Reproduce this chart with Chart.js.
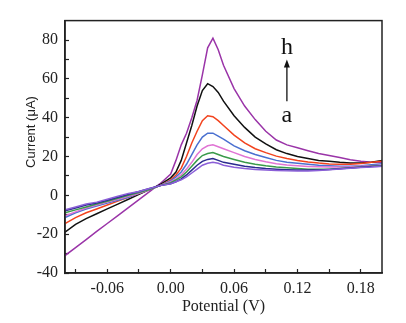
<!DOCTYPE html>
<html>
<head>
<meta charset="utf-8">
<script src="https://cdn.jsdelivr.net/npm/chart.js@4/dist/chart.umd.min.js"></script>
<style>
    html, body { margin: 0; padding: 0; background: #fff; }
    #wrap { width: 406px; height: 323px; }
</style>
</head>
<body>
<div id="wrap"><canvas id="cv" width="406" height="323"></canvas></div>
<script>
// 電位 (V)
var potential = [-0.10, -0.09, -0.08, -0.07, -0.06, -0.05, -0.04, -0.03, -0.02, -0.01,
    0.00, 0.005, 0.01, 0.015, 0.02, 0.025, 0.03, 0.035, 0.04, 0.045, 0.05,
    0.06, 0.07, 0.08, 0.09, 0.10, 0.11, 0.12, 0.13, 0.14, 0.15, 0.16, 0.17, 0.18, 0.19, 0.20];

// 電流 (μA), a -> h
var curveA = [-7.5, -6, -4.5, -3.5, -2, -0.5, 1, 2, 3.5, 5,
    6, 7, 8, 9.5, 11.5, 13.5, 15.5, 16.5, 17, 16.5, 15.5,
    14.5, 13.8, 13.3, 13, 12.8, 12.6, 12.5, 12.5, 12.8, 13.2, 13.6, 14, 14.4, 14.6, 15];
var curveB = [-8, -6.5, -5, -4, -2.5, -1, 0.5, 2, 3.5, 5,
    6, 7, 8.5, 10.5, 13, 15.5, 17.5, 18.5, 19, 18, 17,
    16, 15, 14.3, 13.8, 13.5, 13.2, 13, 13, 13, 13.3, 13.7, 14.1, 14.5, 14.8, 15];
var curveC = [-9, -7.5, -6, -4.5, -3, -1.5, 0, 1.5, 3, 5,
    6.5, 8, 9.5, 12, 15, 18, 20.5, 21.5, 22, 21, 20,
    18.5, 17, 16, 15.2, 14.6, 14.2, 13.8, 13.5, 13.4, 13.5, 13.8, 14.2, 14.6, 15, 15.2];
var curveD = [-10.5, -8.5, -6.5, -5, -3.5, -2, -0.5, 1, 3, 5,
    7, 8.5, 10.5, 13.5, 17, 21, 24, 25.5, 26, 25, 24,
    22, 20, 18.5, 17.3, 16.3, 15.6, 15.2, 14.9, 14.7, 14.6, 14.6, 14.7, 15, 15.2, 15.5];
var curveE = [-11.5, -9, -7, -5.5, -4, -2.5, -1, 1, 3, 5,
    7.5, 9.5, 12, 16, 21, 26, 30, 32, 32, 30.5, 29,
    25.5, 23, 21, 19.5, 18, 17, 16.5, 16, 15.5, 15.2, 15, 15, 15.3, 15.8, 16.3];
var curveF = [-14.5, -11.5, -9, -7, -5, -3, -1, 1, 3, 5,
    8, 10.5, 14, 20, 27, 33, 38.5, 41, 40.5, 38.5, 36,
    31, 27, 24, 22, 20.2, 19, 18, 17.2, 16.6, 16.2, 16, 16, 16.4, 17, 17.5];
var curveG = [-19, -15, -12, -9.5, -7, -4.5, -2, 0.5, 3, 5.5,
    9, 12, 18, 27, 36, 46, 54, 57.5, 56, 53, 48.5,
    41, 35, 30, 26.5, 23.5, 21.5, 20, 19, 18, 17.5, 17, 16.7, 16.6, 17, 18];
var curveH = [-31, -26.9, -22.8, -18.6, -14.5, -10.4, -6.3, -2.2, 1.9, 6,
    11, 18, 26, 32, 40, 49, 62, 76, 81, 75, 67,
    55, 46, 39, 33, 28.5, 26, 24.5, 23, 21.5, 20.5, 19.5, 18.3, 17.5, 17, 17];

var seriesNames = ['a', 'b', 'c', 'd', 'e', 'f', 'g', 'h'];
var seriesColors = ['#8b5fd8', '#2b2b8f', '#3a9a4a', '#e074d4', '#4a70d0', '#f2431e', '#111111', '#9a34a8'];
var seriesValues = [curveA, curveB, curveC, curveD, curveE, curveF, curveG, curveH];

// 刻度: 全部刻度線 / 有文字的主刻度
var xTicks = [-0.09, -0.06, -0.03, 0.00, 0.03, 0.06, 0.09, 0.12, 0.15, 0.18];
var xMajor = [-0.06, 0.00, 0.06, 0.12, 0.18];
var yTicks = [-40, -30, -20, -10, 0, 10, 20, 30, 40, 50, 60, 70, 80];
var yMajor = [-40, -20, 0, 20, 40, 60, 80];

var yTitle = 'Current (μA)';
// h ↑ a 標示
var labelTop = { text: 'h', x: 0.110, y: 76 };
var labelBottom = { text: 'a', x: 0.110, y: 41 };
var arrowFrom = { x: 0.110, y: 48.5 };
var arrowTo = { x: 0.110, y: 70 };

var datasets = seriesValues.map(function (vals, i) {
    return {
        label: seriesNames[i],
        data: potential.map(function (p, j) { return { x: p, y: vals[j] }; }),
        borderColor: seriesColors[i],
        borderWidth: 1.5,
        pointRadius: 0,
        tension: 0,
        fill: false
    };
});

var frame = {
    id: 'frame',
    afterDraw: function (chart) {
        var ctx = chart.ctx, a = chart.chartArea;
        var xs = chart.scales.x, ys = chart.scales.y;
        ctx.save();
        ctx.strokeStyle = '#222';
        ctx.lineWidth = 1.5;
        ctx.strokeRect(a.left, a.top, a.right - a.left, a.bottom - a.top);

        // y 軸標題
        ctx.save();
        ctx.translate(31.5, 132);
        ctx.rotate(-Math.PI / 2);
        ctx.fillStyle = '#222';
        ctx.font = '13px "Liberation Sans", sans-serif';
        ctx.textAlign = 'center';
        ctx.textBaseline = 'middle';
        ctx.fillText(yTitle, 0, 0);
        ctx.restore();

        ctx.fillStyle = '#111';
        ctx.font = '24px "Liberation Serif", serif';
        ctx.textAlign = 'center';
        ctx.textBaseline = 'middle';
        ctx.fillText(labelTop.text, xs.getPixelForValue(labelTop.x), ys.getPixelForValue(labelTop.y));
        ctx.fillText(labelBottom.text, xs.getPixelForValue(labelBottom.x), ys.getPixelForValue(labelBottom.y));

        var ax = xs.getPixelForValue(arrowFrom.x);
        var y1 = ys.getPixelForValue(arrowFrom.y);
        var y2 = ys.getPixelForValue(arrowTo.y);
        ctx.strokeStyle = '#111';
        ctx.lineWidth = 1.3;
        ctx.beginPath();
        ctx.moveTo(ax, y1);
        ctx.lineTo(ax, y2 + 5);
        ctx.stroke();
        ctx.beginPath();
        ctx.moveTo(ax, y2);
        ctx.lineTo(ax - 3, y2 + 8);
        ctx.lineTo(ax + 3, y2 + 8);
        ctx.closePath();
        ctx.fill();
        ctx.restore();
    }
};

function isIn(list, v) {
    return list.some(function (m) { return Math.abs(m - v) < 1e-6; });
}

new Chart(document.getElementById('cv'), {
    type: 'line',
    data: { datasets: datasets },
    plugins: [frame],
    options: {
        responsive: false,
        animation: false,
        layout: { padding: { top: 15, right: 24, left: 0, bottom: 0 } },
        plugins: { legend: { display: false }, tooltip: { enabled: false } },
        scales: {
            x: {
                type: 'linear',
                min: -0.10,
                max: 0.20,
                afterFit: function (s) { s.height = 50; },
                afterBuildTicks: function (s) { s.ticks = xTicks.map(function (v) { return { value: v }; }); },
                border: { display: true, color: '#222', width: 1.5 },
                grid: { drawOnChartArea: false, tickLength: -4, tickColor: '#222', tickWidth: 1.2 },
                ticks: {
                    maxRotation: 0,
                    autoSkip: false,
                    padding: 10,
                    color: '#222',
                    font: { family: '"Liberation Serif", serif', size: 16 },
                    callback: function (v) { return isIn(xMajor, v) ? v.toFixed(2) : ''; }
                },
                title: {
                    display: true,
                    text: 'Potential (V)',
                    color: '#222',
                    padding: { top: 0, bottom: 7 },
                    font: { family: '"Liberation Serif", serif', size: 16 }
                }
            },
            y: {
                type: 'linear',
                min: -40,
                max: 90,
                afterFit: function (s) { s.width = 65; },
                afterBuildTicks: function (s) { s.ticks = yTicks.map(function (v) { return { value: v }; }); },
                border: { display: true, color: '#222', width: 1.5 },
                grid: { drawOnChartArea: false, tickLength: -4, tickColor: '#222', tickWidth: 1.2 },
                ticks: {
                    autoSkip: false,
                    padding: 11,
                    color: '#222',
                    font: { family: '"Liberation Serif", serif', size: 16 },
                    callback: function (v) { return isIn(yMajor, v) ? String(v) : ''; }
                }
            }
        }
    }
});
</script>
</body>
</html>
